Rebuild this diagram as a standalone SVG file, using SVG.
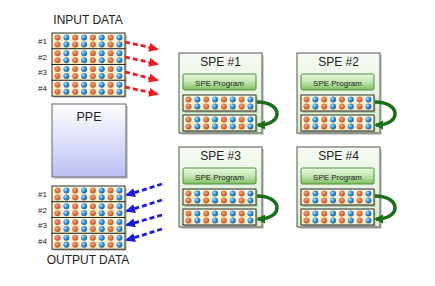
<svg xmlns="http://www.w3.org/2000/svg" width="435" height="286" viewBox="0 0 435 286">
<style>
text{font-family:"Liberation Sans",Arial,sans-serif;fill:#222}
.h{font-size:12px;text-anchor:middle}
.n{font-size:8px;text-anchor:end}
.bp{font-size:8px;text-anchor:middle}
.rowbg{fill:url(#cream);stroke:#2a2a2a;stroke-width:1}
.o{fill:url(#og)}
.b{fill:url(#bg)}
.sh{fill:#000;opacity:0.18}
.red{fill:none;stroke:#ee1c1c;stroke-width:2.8;stroke-dasharray:5 3;marker-end:url(#ar)}
.blue{fill:none;stroke:#1a1ae0;stroke-width:2.8;stroke-dasharray:5 3;marker-end:url(#ab)}
.grn{fill:none;stroke:#1a701a;stroke-width:3.5;marker-end:url(#ag)}
.spe{fill:url(#sg);stroke:#555;stroke-width:1}
.btn{fill:url(#btg);stroke:#4f8f40;stroke-width:1}
</style>
<defs>
<linearGradient id="cream" x1="0" y1="0" x2="0" y2="1"><stop offset="0" stop-color="#fffbe0"/><stop offset="1" stop-color="#f6eab8"/></linearGradient>
<radialGradient id="og" cx="0.4" cy="0.35" r="0.65"><stop offset="0" stop-color="#f2a47c"/><stop offset="1" stop-color="#c84e28"/></radialGradient>
<radialGradient id="bg" cx="0.35" cy="0.35" r="0.65"><stop offset="0" stop-color="#bfe6ff"/><stop offset="0.45" stop-color="#3a9ce8"/><stop offset="1" stop-color="#1468c0"/></radialGradient>
<linearGradient id="sg" x1="0" y1="0" x2="0" y2="1"><stop offset="0" stop-color="#f6fbf3"/><stop offset="1" stop-color="#d6efcc"/></linearGradient>
<linearGradient id="btg" x1="0" y1="0" x2="0" y2="1"><stop offset="0" stop-color="#eaf8e2"/><stop offset="0.5" stop-color="#c2e6b0"/><stop offset="1" stop-color="#7fbf62"/></linearGradient>
<linearGradient id="pg" x1="0" y1="0" x2="0" y2="1"><stop offset="0" stop-color="#ffffff"/><stop offset="1" stop-color="#bcc0f2"/></linearGradient>
<marker id="ar" markerUnits="userSpaceOnUse" markerWidth="11" markerHeight="10" refX="8" refY="4.5" orient="auto"><path d="M0,0 L10,4.5 L0,9 Z" fill="#ee1c1c"/></marker>
<marker id="ab" markerUnits="userSpaceOnUse" markerWidth="11" markerHeight="10" refX="8" refY="4.5" orient="auto"><path d="M0,0 L10,4.5 L0,9 Z" fill="#1a1ae0"/></marker>
<marker id="ag" markerUnits="userSpaceOnUse" markerWidth="10" markerHeight="10" refX="7" refY="4.5" orient="auto"><path d="M0,0 L9,4.5 L0,9 Z" fill="#1a701a"/></marker>
<g id="row">
<rect class="rowbg" x="0" y="0" width="73" height="16"/>
<circle class="o" cx="5.5" cy="4.5" r="3"/><circle class="b" cx="14.35" cy="4.5" r="3"/><circle class="o" cx="23.2" cy="4.5" r="3"/><circle class="b" cx="32.05" cy="4.5" r="3"/><circle class="o" cx="40.9" cy="4.5" r="3"/><circle class="b" cx="49.75" cy="4.5" r="3"/><circle class="o" cx="58.6" cy="4.5" r="3"/><circle class="b" cx="67.45" cy="4.5" r="3"/>
<circle class="o" cx="5.5" cy="11.5" r="3"/><circle class="b" cx="14.35" cy="11.5" r="3"/><circle class="o" cx="23.2" cy="11.5" r="3"/><circle class="b" cx="32.05" cy="11.5" r="3"/><circle class="o" cx="40.9" cy="11.5" r="3"/><circle class="b" cx="49.75" cy="11.5" r="3"/><circle class="o" cx="58.6" cy="11.5" r="3"/><circle class="b" cx="67.45" cy="11.5" r="3"/>
</g>
<g id="speBody">
<rect class="sh" x="2" y="2" width="83" height="80"/>
<rect class="spe" x="0" y="0" width="83" height="80"/>
<rect class="btn" x="4" y="21" width="73" height="16" rx="1.5"/>
<text class="bp" x="40.5" y="33">SPE Program</text>
<rect class="sh" x="5.5" y="43.5" width="73" height="16.5"/>
<use href="#row" x="4" y="42"/>
<rect class="sh" x="5.5" y="63.5" width="73" height="16"/>
<use href="#row" x="4" y="62"/>
</g>
</defs>

<g id="input-data">
<text class="h" x="88" y="24">INPUT DATA</text>
<rect class="sh" x="54" y="35" width="73" height="63"/>
<use href="#row" x="52" y="33"/>
<use href="#row" x="52" y="48.75"/>
<use href="#row" x="52" y="64.5"/>
<use href="#row" x="52" y="80.25"/>
<text class="n" x="47" y="44">#1</text>
<text class="n" x="47" y="60">#2</text>
<text class="n" x="47" y="75">#3</text>
<text class="n" x="47" y="91">#4</text>
</g>

<g id="ppe">
<rect class="sh" x="54" y="106" width="74" height="73"/>
<rect x="52" y="104" width="74" height="73" fill="url(#pg)" stroke="#666" stroke-width="1"/>
<text class="h" x="89" y="121" style="font-size:12.5px">PPE</text>
</g>

<g id="output-data">
<rect class="sh" x="54" y="188" width="73" height="63"/>
<use href="#row" x="52" y="186"/>
<use href="#row" x="52" y="201.75"/>
<use href="#row" x="52" y="217.5"/>
<use href="#row" x="52" y="233.25"/>
<text class="n" x="47" y="197">#1</text>
<text class="n" x="47" y="213">#2</text>
<text class="n" x="47" y="228">#3</text>
<text class="n" x="47" y="244">#4</text>
<text class="h" x="88" y="264">OUTPUT DATA</text>
</g>

<g id="spe1" transform="translate(179,53)">
<use href="#speBody"/>
<text class="h" x="41.5" y="13">SPE #1</text>
</g>
<g id="spe2" transform="translate(297,53)">
<use href="#speBody"/>
<text class="h" x="41.5" y="13">SPE #2</text>
</g>
<g id="spe3" transform="translate(179,147)">
<use href="#speBody"/>
<text class="h" x="41.5" y="13">SPE #3</text>
</g>
<g id="spe4" transform="translate(297,147)">
<use href="#speBody"/>
<text class="h" x="41.5" y="13">SPE #4</text>
</g>

<g id="connectors">
<path class="red" d="M125,42 L157,49"/>
<path class="red" d="M125,57 L157,64"/>
<path class="red" d="M125,72 L157,80"/>
<path class="red" d="M125,87 L157,94"/>
<path class="blue" d="M162,184 L127,195"/>
<path class="blue" d="M162,200 L127,211"/>
<path class="blue" d="M162,215 L127,225"/>
<path class="blue" d="M162,229 L127,240"/>
<path class="grn" d="M257,102 C283,102 284,125 258,125"/>
<path class="grn" d="M375,102 C401,102 402,125 376,125"/>
<path class="grn" d="M257,196 C283,196 284,219 258,219"/>
<path class="grn" d="M375,196 C401,196 402,219 376,219"/>
</g>
</svg>
